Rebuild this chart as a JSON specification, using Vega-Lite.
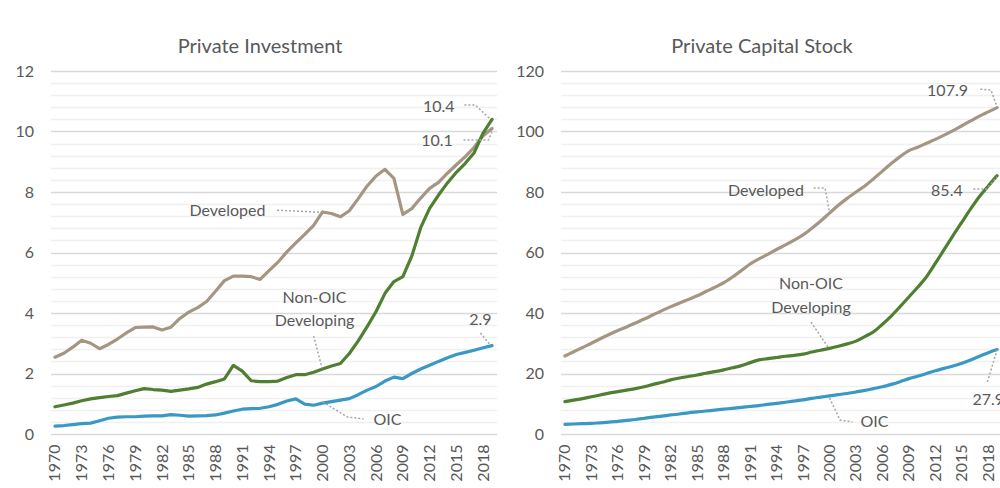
{
  "$schema": "https://vega.github.io/schema/vega-lite/v6.json",
  "background": "white",
  "autosize": {"type": "pad"},
  "padding": {"left": 14.5, "top": 37, "right": 0, "bottom": 0},
  "spacing": 19,
  "config": {
    "font": "Lato",
    "view": {"stroke": null},
    "axis": {"labelFont": "Lato", "labelFontSize": 16, "labelColor": "#595959", "domain": false, "ticks": false, "title": null},
    "title": {"font": "Lato", "fontSize": 20, "fontWeight": "normal", "color": "#595959", "anchor": "middle", "frame": "group", "baseline": "alphabetic", "offset": 6}
  },
  "datasets": {
    "inv": [
      {"year":1970,"dev":2.54,"non":0.90,"oic":0.26},{"year":1971,"dev":2.67,"non":0.96,"oic":0.28},{"year":1972,"dev":2.87,"non":1.02,"oic":0.31},{"year":1973,"dev":3.10,"non":1.10,"oic":0.34},{"year":1974,"dev":3.00,"non":1.16,"oic":0.36},{"year":1975,"dev":2.82,"non":1.20,"oic":0.44},{"year":1976,"dev":2.96,"non":1.24,"oic":0.52},{"year":1977,"dev":3.14,"non":1.27,"oic":0.56},{"year":1978,"dev":3.34,"non":1.35,"oic":0.57},{"year":1979,"dev":3.52,"non":1.43,"oic":0.57},
      {"year":1980,"dev":3.53,"non":1.50,"oic":0.59},{"year":1981,"dev":3.54,"non":1.47,"oic":0.60},{"year":1982,"dev":3.44,"non":1.45,"oic":0.60},{"year":1983,"dev":3.53,"non":1.41,"oic":0.64},{"year":1984,"dev":3.82,"non":1.45,"oic":0.62},{"year":1985,"dev":4.03,"non":1.49,"oic":0.59},{"year":1986,"dev":4.18,"non":1.54,"oic":0.60},{"year":1987,"dev":4.38,"non":1.65,"oic":0.61},{"year":1988,"dev":4.72,"non":1.73,"oic":0.63},{"year":1989,"dev":5.07,"non":1.82,"oic":0.69},
      {"year":1990,"dev":5.22,"non":2.27,"oic":0.76},{"year":1991,"dev":5.22,"non":2.08,"oic":0.82},{"year":1992,"dev":5.20,"non":1.76,"oic":0.84},{"year":1993,"dev":5.11,"non":1.73,"oic":0.85},{"year":1994,"dev":5.40,"non":1.73,"oic":0.90},{"year":1995,"dev":5.68,"non":1.75,"oic":0.98},{"year":1996,"dev":6.02,"non":1.87,"oic":1.09},{"year":1997,"dev":6.32,"non":1.96,"oic":1.16},{"year":1998,"dev":6.60,"non":1.96,"oic":0.99},{"year":1999,"dev":6.90,"non":2.04,"oic":0.95},
      {"year":2000,"dev":7.34,"non":2.15,"oic":1.02},{"year":2001,"dev":7.29,"non":2.25,"oic":1.07},{"year":2002,"dev":7.18,"non":2.33,"oic":1.12},{"year":2003,"dev":7.38,"non":2.66,"oic":1.17},{"year":2004,"dev":7.78,"non":3.08,"oic":1.30},{"year":2005,"dev":8.20,"non":3.55,"oic":1.45},{"year":2006,"dev":8.53,"non":4.05,"oic":1.57},{"year":2007,"dev":8.75,"non":4.65,"oic":1.75},{"year":2008,"dev":8.45,"non":5.04,"oic":1.88},{"year":2009,"dev":7.26,"non":5.20,"oic":1.83},
      {"year":2010,"dev":7.45,"non":5.88,"oic":2.00},{"year":2011,"dev":7.80,"non":6.82,"oic":2.15},{"year":2012,"dev":8.12,"non":7.46,"oic":2.27},{"year":2013,"dev":8.32,"non":7.90,"oic":2.40},{"year":2014,"dev":8.62,"non":8.30,"oic":2.52},{"year":2015,"dev":8.90,"non":8.65,"oic":2.63},{"year":2016,"dev":9.17,"non":8.95,"oic":2.70},{"year":2017,"dev":9.48,"non":9.30,"oic":2.77},{"year":2018,"dev":9.86,"non":9.95,"oic":2.85},{"year":2019,"dev":10.10,"non":10.40,"oic":2.92}
    ],
    "cap": [
      {"year":1970,"dev":25.8,"non":10.7,"oic":3.2},{"year":1971,"dev":27.2,"non":11.2,"oic":3.3},{"year":1972,"dev":28.6,"non":11.7,"oic":3.4},{"year":1973,"dev":30.0,"non":12.3,"oic":3.5},{"year":1974,"dev":31.5,"non":12.9,"oic":3.7},{"year":1975,"dev":32.9,"non":13.5,"oic":3.9},{"year":1976,"dev":34.2,"non":14.0,"oic":4.2},{"year":1977,"dev":35.4,"non":14.5,"oic":4.5},{"year":1978,"dev":36.7,"non":15.0,"oic":4.8},{"year":1979,"dev":38.0,"non":15.6,"oic":5.2},
      {"year":1980,"dev":39.4,"non":16.4,"oic":5.6},{"year":1981,"dev":40.8,"non":17.1,"oic":5.9},{"year":1982,"dev":42.1,"non":17.9,"oic":6.3},{"year":1983,"dev":43.3,"non":18.5,"oic":6.6},{"year":1984,"dev":44.5,"non":19.0,"oic":7.0},{"year":1985,"dev":45.7,"non":19.5,"oic":7.3},{"year":1986,"dev":47.1,"non":20.1,"oic":7.6},{"year":1987,"dev":48.5,"non":20.6,"oic":7.9},{"year":1988,"dev":50.0,"non":21.2,"oic":8.2},{"year":1989,"dev":51.9,"non":21.9,"oic":8.5},
      {"year":1990,"dev":54.0,"non":22.6,"oic":8.8},{"year":1991,"dev":56.2,"non":23.6,"oic":9.1},{"year":1992,"dev":57.9,"non":24.5,"oic":9.4},{"year":1993,"dev":59.4,"non":24.9,"oic":9.8},{"year":1994,"dev":61.0,"non":25.3,"oic":10.1},{"year":1995,"dev":62.5,"non":25.7,"oic":10.5},{"year":1996,"dev":64.1,"non":26.0,"oic":10.9},{"year":1997,"dev":65.8,"non":26.4,"oic":11.3},{"year":1998,"dev":68.0,"non":27.1,"oic":11.8},{"year":1999,"dev":70.4,"non":27.7,"oic":12.2},
      {"year":2000,"dev":73.0,"non":28.3,"oic":12.6},{"year":2001,"dev":75.6,"non":29.0,"oic":13.0},{"year":2002,"dev":77.9,"non":29.8,"oic":13.4},{"year":2003,"dev":80.0,"non":30.7,"oic":13.9},{"year":2004,"dev":82.0,"non":32.2,"oic":14.4},{"year":2005,"dev":84.4,"non":33.8,"oic":15.0},{"year":2006,"dev":86.9,"non":36.3,"oic":15.6},{"year":2007,"dev":89.4,"non":39.0,"oic":16.4},{"year":2008,"dev":91.7,"non":42.1,"oic":17.3},{"year":2009,"dev":93.7,"non":45.3,"oic":18.3},
      {"year":2010,"dev":94.8,"non":48.5,"oic":19.1},{"year":2011,"dev":96.1,"non":52.0,"oic":20.0},{"year":2012,"dev":97.4,"non":56.4,"oic":20.9},{"year":2013,"dev":98.8,"non":61.0,"oic":21.7},{"year":2014,"dev":100.3,"non":65.6,"oic":22.5},{"year":2015,"dev":101.9,"non":70.0,"oic":23.4},{"year":2016,"dev":103.5,"non":74.4,"oic":24.5},{"year":2017,"dev":105.1,"non":78.5,"oic":25.7},{"year":2018,"dev":106.5,"non":82.0,"oic":26.9},{"year":2019,"dev":107.9,"non":85.4,"oic":27.9}
    ],
    "invTextRight": [
      {"year":2014.8,"v":10.81,"t":"10.4"},{"year":2014.6,"v":9.69,"t":"10.1"},{"year":1993.6,"v":7.37,"t":"Developed"}
    ],
    "invTextMid": [
      {"year":1999.1,"v":4.5,"t":"Non-OIC"},{"year":1999.1,"v":3.73,"t":"Developing"},{"year":2017.7,"v":3.77,"t":"2.9"}
    ],
    "invTextLeft": [
      {"year":2005.7,"v":0.46,"t":"OIC"}
    ],
    "invLead": [
      {"g":"a","year":2015.9,"v":10.88},{"g":"a","year":2017.1,"v":10.88},{"g":"a","year":2018.8,"v":10.41},
      {"g":"b","year":2015.8,"v":9.72},{"g":"b","year":2018.6,"v":9.72},{"g":"b","year":2019.0,"v":10.0},
      {"g":"c","year":1994.9,"v":7.4},{"g":"c","year":1999.8,"v":7.33},
      {"g":"d","year":1999.0,"v":3.24},{"g":"d","year":1999.95,"v":2.17},
      {"g":"e","year":2000.0,"v":1.06},{"g":"e","year":2002.8,"v":0.56},{"g":"e","year":2004.6,"v":0.5},
      {"g":"f","year":2017.7,"v":3.34},{"g":"f","year":2018.8,"v":2.94}
    ],
    "capTextRight": [
      {"year":2015.7,"v":113.4,"t":"107.9"},{"year":2015.1,"v":80.3,"t":"85.4"},{"year":1997.1,"v":80.3,"t":"Developed"}
    ],
    "capTextMid": [
      {"year":1997.9,"v":49.6,"t":"Non-OIC"},{"year":1997.9,"v":41.7,"t":"Developing"}
    ],
    "capTextLeft": [
      {"year":2003.5,"v":4.0,"t":"OIC"},{"year":2016.2,"v":11.2,"t":"27.9"}
    ],
    "capLead": [
      {"g":"a","year":2017.1,"v":114.0},{"g":"a","year":2018.3,"v":113.7},{"g":"a","year":2019.0,"v":108.1},
      {"g":"b","year":2016.3,"v":81.0},{"g":"b","year":2017.8,"v":81.0},{"g":"b","year":2019.0,"v":85.0},
      {"g":"c","year":1998.2,"v":81.3},{"g":"c","year":1999.5,"v":81.3},{"g":"c","year":2000.0,"v":73.2},
      {"g":"d","year":1997.9,"v":37.0},{"g":"d","year":1999.9,"v":28.4},
      {"g":"e","year":2000.0,"v":11.9},{"g":"e","year":2001.2,"v":4.6},{"g":"e","year":2002.6,"v":4.0},
      {"g":"f","year":2017.9,"v":17.2},{"g":"f","year":2019.0,"v":27.8}
    ]
  },
  "hconcat": [
    {
      "width": 446,
      "height": 363,
      "title": {"text": "Private Investment", "dx": -13.5},
      "encoding": {
        "x": {"field": "year", "type": "quantitative", "title": null,
          "scale": {"domain": [1969.5, 2019.5], "nice": false, "zero": false},
          "axis": {"values": [1970,1973,1976,1979,1982,1985,1988,1991,1994,1997,2000,2003,2006,2009,2012,2015,2018], "format": "d", "labelAngle": 270, "labelAlign": "right", "labelBaseline": "middle", "labelPadding": 10, "grid": false, "labelOverlap": false, "labelFlush": false}},
        "y": {"field": "v", "type": "quantitative", "title": null,
          "scale": {"domain": [0, 12], "nice": false},
          "axis": {"values": [0,0.4,0.8,1.2,1.6,2,2.4,2.8,3.2,3.6,4,4.4,4.8,5.2,5.6,6,6.4,6.8,7.2,7.6,8,8.4,8.8,9.2,9.6,10,10.4,10.8,11.2,11.6,12],
            "labelExpr": "datum.value % 2 === 0 ? format(datum.value, 'd') : ''", "labelOverlap": false, "labelPadding": 17, "grid": true, "gridWidth": 1.5,
            "gridColor": {"condition": {"test": "datum.value % 2 === 0", "value": "#d9d9d9"}, "value": "#f0f0f0"}}}
      },
      "layer": [
        {
          "data": {"name": "inv"},
          "transform": [{"fold": ["dev", "non", "oic"], "as": ["series", "v"]}],
          "mark": {"type": "line", "strokeCap": "round", "strokeJoin": "round"},
          "encoding": {
            "color": {"field": "series", "type": "nominal", "scale": {"domain": ["dev","non","oic"], "range": ["#a49682","#4f7f31","#3a98c4"]}, "legend": null},
            "strokeWidth": {"field": "series", "type": "ordinal", "scale": {"domain": ["dev","non","oic"], "range": [3.2,3.2,5.5]}, "legend": null}
          }
        },
        {
          "data": {"name": "invLead"},
          "mark": {"type": "line", "strokeDash": [2, 2], "color": "#a6a6a6", "strokeWidth": 1.5},
          "encoding": {"detail": {"field": "g", "type": "nominal"}}
        },
        {
          "data": {"name": "invTextRight"},
          "mark": {"type": "text", "align": "right", "baseline": "middle", "fontSize": 16, "color": "#595959"},
          "encoding": {"text": {"field": "t"}}
        },
        {
          "data": {"name": "invTextMid"},
          "mark": {"type": "text", "align": "center", "baseline": "middle", "fontSize": 16, "color": "#595959"},
          "encoding": {"text": {"field": "t"}}
        },
        {
          "data": {"name": "invTextLeft"},
          "mark": {"type": "text", "align": "left", "baseline": "middle", "fontSize": 16, "color": "#595959"},
          "encoding": {"text": {"field": "t"}}
        }
      ]
    },
    {
      "width": 441,
      "height": 363,
      "title": {"text": "Private Capital Stock", "dx": -19},
      "encoding": {
        "x": {"field": "year", "type": "quantitative", "title": null,
          "scale": {"domain": [1969.5, 2019.5], "nice": false, "zero": false},
          "axis": {"values": [1970,1973,1976,1979,1982,1985,1988,1991,1994,1997,2000,2003,2006,2009,2012,2015,2018], "format": "d", "labelAngle": 270, "labelAlign": "right", "labelBaseline": "middle", "labelPadding": 10, "grid": false, "labelOverlap": false, "labelFlush": false}},
        "y": {"field": "v", "type": "quantitative", "title": null,
          "scale": {"domain": [0, 120], "nice": false},
          "axis": {"values": [0,4,8,12,16,20,24,28,32,36,40,44,48,52,56,60,64,68,72,76,80,84,88,92,96,100,104,108,112,116,120],
            "labelExpr": "datum.value % 20 === 0 ? format(datum.value, 'd') : ''", "labelOverlap": false, "labelPadding": 17, "grid": true, "gridWidth": 1.5,
            "gridColor": {"condition": {"test": "datum.value % 20 === 0", "value": "#d9d9d9"}, "value": "#f0f0f0"}}}
      },
      "layer": [
        {
          "data": {"name": "cap"},
          "transform": [{"fold": ["dev", "non", "oic"], "as": ["series", "v"]}],
          "mark": {"type": "line", "strokeCap": "round", "strokeJoin": "round", "interpolate": "monotone"},
          "encoding": {
            "color": {"field": "series", "type": "nominal", "scale": {"domain": ["dev","non","oic"], "range": ["#a49682","#4f7f31","#3a98c4"]}, "legend": null},
            "strokeWidth": {"field": "series", "type": "ordinal", "scale": {"domain": ["dev","non","oic"], "range": [3.2,3.2,5.8]}, "legend": null}
          }
        },
        {
          "data": {"name": "capLead"},
          "mark": {"type": "line", "strokeDash": [2, 2], "color": "#a6a6a6", "strokeWidth": 1.5},
          "encoding": {"detail": {"field": "g", "type": "nominal"}}
        },
        {
          "data": {"name": "capTextRight"},
          "mark": {"type": "text", "align": "right", "baseline": "middle", "fontSize": 16, "color": "#595959"},
          "encoding": {"text": {"field": "t"}}
        },
        {
          "data": {"name": "capTextMid"},
          "mark": {"type": "text", "align": "center", "baseline": "middle", "fontSize": 16, "color": "#595959"},
          "encoding": {"text": {"field": "t"}}
        },
        {
          "data": {"name": "capTextLeft"},
          "mark": {"type": "text", "align": "left", "baseline": "middle", "fontSize": 16, "color": "#595959"},
          "encoding": {"text": {"field": "t"}}
        }
      ]
    }
  ]
}
